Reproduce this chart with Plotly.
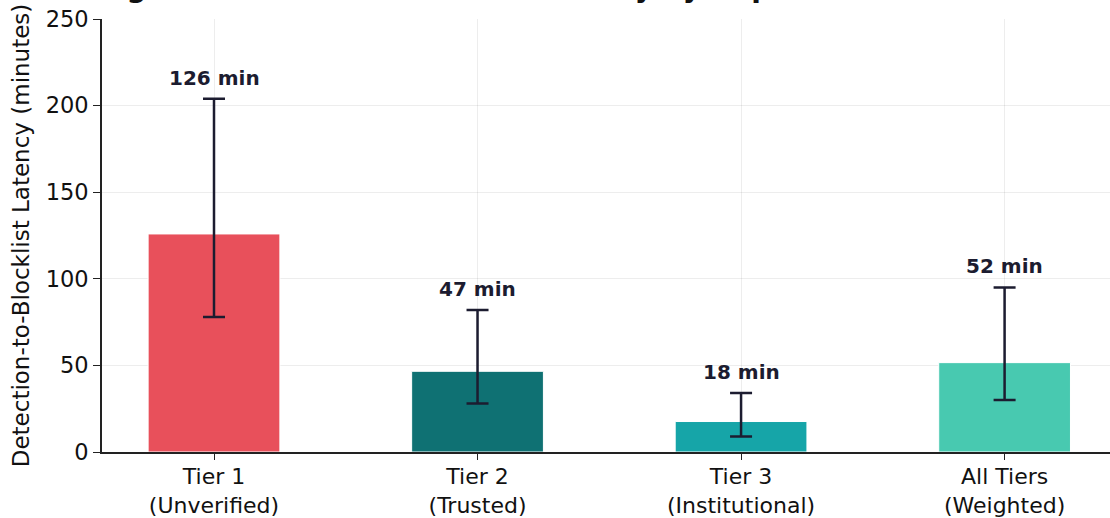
import plotly.graph_objects as go

categories = ["Tier 1<br>(Unverified)", "Tier 2<br>(Trusted)", "Tier 3<br>(Institutional)", "All Tiers<br>(Weighted)"]
latency = [125.9, 46.6, 17.6, 51.6]
lower_bound = [78, 28, 9, 30]
upper_bound = [204, 82, 34, 95]
bar_colors = ["#E8505B", "#0F7173", "#16A5A8", "#48C9B0"]
title_text = "Average Detection-to-Blocklist Latency by Reporter Tier"

x_pos = list(range(len(categories)))
err_plus = [u - v for u, v in zip(upper_bound, latency)]
err_minus = [v - l for v, l in zip(latency, lower_bound)]

FONT = "DejaVu Sans"
INK = "#1c1c30"

fig = go.Figure()
fig.add_trace(go.Bar(
    x=x_pos, y=latency, width=0.5,
    marker=dict(color=bar_colors, line=dict(color="white", width=1)),
    error_y=dict(type="data", symmetric=False, array=err_plus, arrayminus=err_minus,
                 color=INK, thickness=2.5, width=11),
    showlegend=False, hoverinfo="skip",
))

for xi, v, u in zip(x_pos, latency, upper_bound):
    fig.add_annotation(x=xi, y=u, text=f"<b>{v:.0f} min</b>", showarrow=False,
                       yanchor="middle", yshift=21,
                       font=dict(family=FONT, size=20, color=INK))

# Title (cropped at the top in the reference; only descenders visible)
fig.add_annotation(xref="paper", yref="paper", x=-0.067, y=1.0, xanchor="left", yanchor="bottom",
                   yshift=13, text=f"<b>{title_text}</b>", showarrow=False,
                   font=dict(family=FONT, size=28, color="#111111"))

fig.update_layout(
    width=1110, height=518,
    margin=dict(l=102, r=0, t=19, b=66, autoexpand=False),
    paper_bgcolor="white", plot_bgcolor="white",
    font=dict(family=FONT, size=22.5, color="#111111"),
    bargap=0.5,
)
fig.update_xaxes(
    range=[-0.425, 3.40], tickmode="array", tickvals=x_pos, ticktext=categories,
    showgrid=True, gridcolor="rgba(0,0,0,0.07)", gridwidth=1,
    showline=True, linecolor="#222222", linewidth=1.6,
    ticks="outside", ticklen=6, tickwidth=1.4, tickcolor="#222222",
    tickfont=dict(family=FONT, size=22, color="#111111"), zeroline=False,
    ticklabelstandoff=-2,
    automargin=False,
)
fig.update_yaxes(
    range=[0, 250], tickmode="array", tickvals=[0, 50, 100, 150, 200, 250],
    showgrid=True, gridcolor="rgba(0,0,0,0.07)", gridwidth=1,
    showline=True, linecolor="#222222", linewidth=1.6,
    ticks="outside", ticklen=7, tickwidth=1.4, tickcolor="#222222",
    tickfont=dict(family=FONT, size=22.5, color="#111111"), zeroline=False,
    automargin=False,
    title=dict(text="Detection-to-Blocklist Latency (minutes)", standoff=10,
               font=dict(family=FONT, size=23, color="#111111")),
)

fig.write_html("out.html", config={"displayModeBar": False},
               post_script="document.body.style.margin='0';document.body.style.overflow='hidden';")
